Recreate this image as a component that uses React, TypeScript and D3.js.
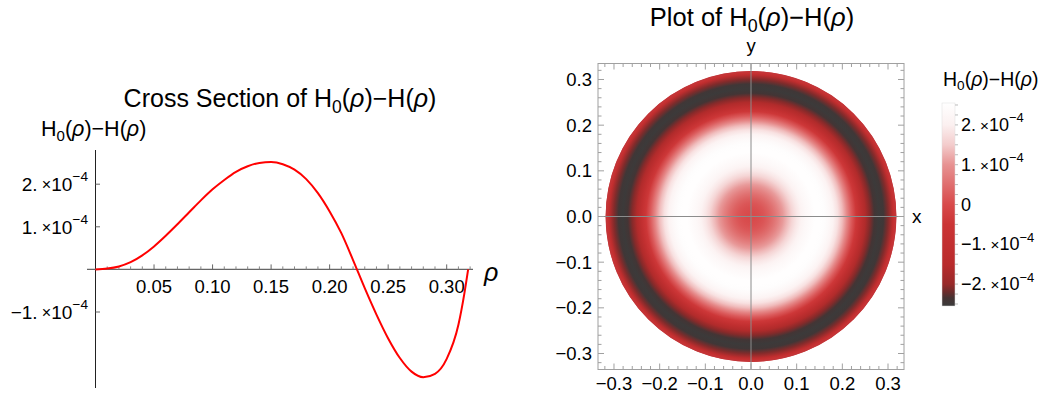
import React from "react";
import * as d3 from "d3";

// ---------- data ----------
const R = 1 / Math.PI; // disk radius (ρ max)
const rhoValues = [0, 0.01, 0.02, 0.03, 0.04, 0.05, 0.06, 0.07, 0.08, 0.09, 0.1, 0.11, 0.12, 0.13, 0.14, 0.15, 0.16, 0.17, 0.18, 0.19, 0.2, 0.21, 0.22, 0.23, 0.24, 0.25, 0.26, 0.27, 0.28, 0.29, 0.3, 0.31, 0.315, 0.3183];
const diffValues = [0, 0.02e-4, 0.07e-4, 0.17e-4, 0.33e-4, 0.54e-4, 0.79e-4, 1.06e-4, 1.34e-4, 1.62e-4, 1.88e-4, 2.1e-4, 2.29e-4, 2.42e-4, 2.5e-4, 2.52e-4, 2.47e-4, 2.34e-4, 2.12e-4, 1.79e-4, 1.36e-4, 0.85e-4, 0.22e-4, -0.44e-4, -1.06e-4, -1.62e-4, -2.08e-4, -2.4e-4, -2.53e-4, -2.45e-4, -2.1e-4, -1.3e-4, -0.58e-4, 0];
const crossXTicks = [0.05, 0.1, 0.15, 0.2, 0.25, 0.3];
const crossYTicks = [2e-4, 1e-4, -1e-4];
const densityTicks = [-0.3, -0.2, -0.1, 0, 0.1, 0.2, 0.3];
const legendTicks = [2e-4, 1e-4, 0, -1e-4, -2e-4];
const colorStops = [-2.55e-4, -2.35e-4, -2.2e-4, -2.0e-4, -1.5e-4, -0.5e-4, 0, 1.0e-4, 1.5e-4, 2.0e-4, 2.55e-4];
const colorRange = ["#3b3b3b", "#453333", "#6a2c2c", "#982929", "#b92b2c", "#cb3435", "#d84a4b", "#e79292", "#f3cccc", "#fbf0f0", "#ffffff"];

const FONT = "'Liberation Sans', Arial, sans-serif";

function Sci({ v, x, y, size, anchor = "end" }: { v: number; x: number; y: number; size: number; anchor?: string }) {
  if (v === 0) {
    return (
      <text x={x} y={y} fontSize={size} textAnchor={anchor} dominantBaseline="central" fontFamily={FONT}>0</text>
    );
  }
  const m = v / 1e-4;
  const mant = (m < 0 ? "\u2212" : "") + Math.abs(m).toFixed(0) + ".";
  return (
    <text x={x} y={y} fontSize={size} textAnchor={anchor} dominantBaseline="central" fontFamily={FONT}>
      <tspan>{mant}</tspan>
      <tspan fontSize={size * 0.85} dx={size * 0.22}>{"\u00d7"}</tspan>
      <tspan>10</tspan>
      <tspan fontSize={size * 0.72} dy={-size * 0.42}>{"\u22124"}</tspan>
    </text>
  );
}

function HLabel({ x, y, size, anchor = "middle", prefix = "" }: { x: number; y: number; size: number; anchor?: string; prefix?: string }) {
  return (
    <text x={x} y={y} fontSize={size} textAnchor={anchor} fontFamily={FONT} fill="#000">
      {prefix}H
      <tspan fontSize={size * 0.7} dy={size * 0.22}>0</tspan>
      <tspan dy={-size * 0.22}>(</tspan>
      <tspan fontStyle="italic">{"\u03c1"}</tspan>
      <tspan>{")\u2212H("}</tspan>
      <tspan fontStyle="italic">{"\u03c1"}</tspan>
      <tspan>)</tspan>
    </text>
  );
}

export default function App() {
  // ---------- left cross-section ----------
  const xS = d3.scaleLinear().domain([0, 0.3]).range([95.5, 446.7]);
  const yS = d3.scaleLinear().domain([-1e-4, 1e-4]).range([312.0, 226.8]);
  const pts: [number, number][] = rhoValues.map((r, i) => [r, diffValues[i]]);
  const line = d3
    .line<[number, number]>()
    .x((d) => xS(d[0]))
    .y((d) => yS(d[1]))
    .curve(d3.curveMonotoneX);
  const minorX = d3.range(0.01, 0.321, 0.01).filter((t) => Math.abs(Math.round(t / 0.05) * 0.05 - t) > 1e-6);
  const axisY = yS(0);

  // ---------- right density plot ----------
  const dx = d3.scaleLinear().domain([-0.335, 0.335]).range([598, 904]);
  const dy = d3.scaleLinear().domain([-0.335, 0.335]).range([369.5, 63.5]);
  const color = d3.scaleLinear<string>().domain(colorStops).range(colorRange).interpolate(d3.interpolateRgb).clamp(true);
  const diskR = dx(R) - dx(0);
  const minorD = d3.range(-0.32, 0.321, 0.02).filter((t) => Math.abs(Math.round(t * 10) / 10 - t) > 1e-6);

  // ---------- legend ----------
  const legTop = 103;
  const legBot = 306;
  const legS = d3.scaleLinear().domain([colorStops[0], colorStops[colorStops.length - 1]]).range([legBot, legTop]);
  const legMinor = d3.range(-2.5e-4, 2.51e-4, 0.25e-4);

  const frameColor = "#a0a0a0";

  return (
    <svg width={1042} height={398} style={{ position: "absolute", left: 0, top: 0, background: "#fff" }} fontFamily={FONT}>
      <defs>
        <radialGradient id="diskGrad" cx={dx(0)} cy={dy(0)} r={diskR} gradientUnits="userSpaceOnUse">
          {rhoValues.map((r, i) => (
            <stop key={i} offset={Math.min(1, r / R)} stopColor={color(diffValues[i])} />
          ))}
        </radialGradient>
        <linearGradient id="legGrad" x1="0" y1={legBot} x2="0" y2={legTop} gradientUnits="userSpaceOnUse">
          {colorStops.map((v, i) => (
            <stop key={i} offset={(v - colorStops[0]) / (colorStops[colorStops.length - 1] - colorStops[0])} stopColor={colorRange[i]} />
          ))}
        </linearGradient>
      </defs>

      {/* ===== Left: cross section ===== */}
      <HLabel x={280} y={107} size={25} prefix="Cross Section of " />
      <HLabel x={41} y={136} size={21.5} anchor="start" />

      {/* axes */}
      <line x1={95.5} x2={95.5} y1={150} y2={388} stroke="#222" strokeWidth={1} />
      <line x1={87} x2={473} y1={axisY} y2={axisY} stroke="#666" strokeWidth={1.2} />
      {crossXTicks.map((t) => (
        <g key={t}>
          <line x1={xS(t)} x2={xS(t)} y1={axisY} y2={axisY - 5} stroke="#666" />
          <text x={xS(t)} y={axisY + 24} fontSize={18.5} textAnchor="middle">{t.toFixed(2)}</text>
        </g>
      ))}
      {minorX.map((t) => (
        <line key={t} x1={xS(t)} x2={xS(t)} y1={axisY} y2={axisY - 3} stroke="#888" />
      ))}
      {crossYTicks.map((t) => (
        <g key={t}>
          <line x1={95.5} x2={100} y1={yS(t)} y2={yS(t)} stroke="#666" />
          <Sci v={t} x={88} y={yS(t)} size={19} />
        </g>
      ))}
      <text x={484} y={281} fontSize={25} fontStyle="italic">{"\u03c1"}</text>
      <path d={line(pts) || ""} fill="none" stroke="#ff0000" strokeWidth={2} />

      {/* ===== Right: density plot ===== */}
      <HLabel x={752} y={26} size={25.5} prefix="Plot of " />
      <text x={751} y={52} fontSize={18.5} textAnchor="middle">y</text>
      <text x={912} y={223} fontSize={19}>x</text>

      <circle cx={dx(0)} cy={dy(0)} r={diskR} fill="url(#diskGrad)" />
      <circle cx={dx(0)} cy={dy(0)} r={diskR - 0.75} fill="none" stroke="#c23538" strokeWidth={1.5} />
      <line x1={dx(0)} x2={dx(0)} y1={dy(0.335)} y2={dy(-0.335)} stroke="#8c8c8c" strokeWidth={1} />
      <line x1={dx(-0.335)} x2={dx(0.335)} y1={dy(0)} y2={dy(0)} stroke="#8c8c8c" strokeWidth={1} />

      <rect x={598} y={63.5} width={306} height={306} fill="none" stroke={frameColor} strokeWidth={1} />
      {densityTicks.map((t) => (
        <g key={t}>
          <line x1={dx(t)} x2={dx(t)} y1={369.5} y2={363.5} stroke={frameColor} />
          <line x1={dx(t)} x2={dx(t)} y1={63.5} y2={69.5} stroke={frameColor} />
          <line x1={598} x2={604} y1={dy(t)} y2={dy(t)} stroke={frameColor} />
          <line x1={904} x2={898} y1={dy(t)} y2={dy(t)} stroke={frameColor} />
          <text x={dx(t)} y={390} fontSize={18.5} textAnchor="middle">{t < 0 ? "\u2212" + Math.abs(t).toFixed(1) : t.toFixed(1)}</text>
          <text x={592} y={dy(t)} fontSize={18.5} textAnchor="end" dominantBaseline="central">{t < 0 ? "\u2212" + Math.abs(t).toFixed(1) : t.toFixed(1)}</text>
        </g>
      ))}
      {minorD.map((t) => (
        <g key={t}>
          <line x1={dx(t)} x2={dx(t)} y1={369.5} y2={366} stroke={frameColor} />
          <line x1={dx(t)} x2={dx(t)} y1={63.5} y2={67} stroke={frameColor} />
          <line x1={598} x2={601.5} y1={dy(t)} y2={dy(t)} stroke={frameColor} />
          <line x1={904} x2={900.5} y1={dy(t)} y2={dy(t)} stroke={frameColor} />
        </g>
      ))}

      {/* ===== Legend ===== */}
      <HLabel x={943} y={86} size={19.5} anchor="start" />
      <rect x={942} y={legTop} width={13} height={legBot - legTop} fill="url(#legGrad)" stroke="#ddd" strokeWidth={0.5} />
      {legMinor.map((t) => (
        <line key={t} x1={955} x2={958} y1={legS(t)} y2={legS(t)} stroke="#bbb" />
      ))}
      {legendTicks.map((t) => (
        <Sci key={t} v={t} x={961} y={legS(t)} size={18} anchor="start" />
      ))}
    </svg>
  );
}
